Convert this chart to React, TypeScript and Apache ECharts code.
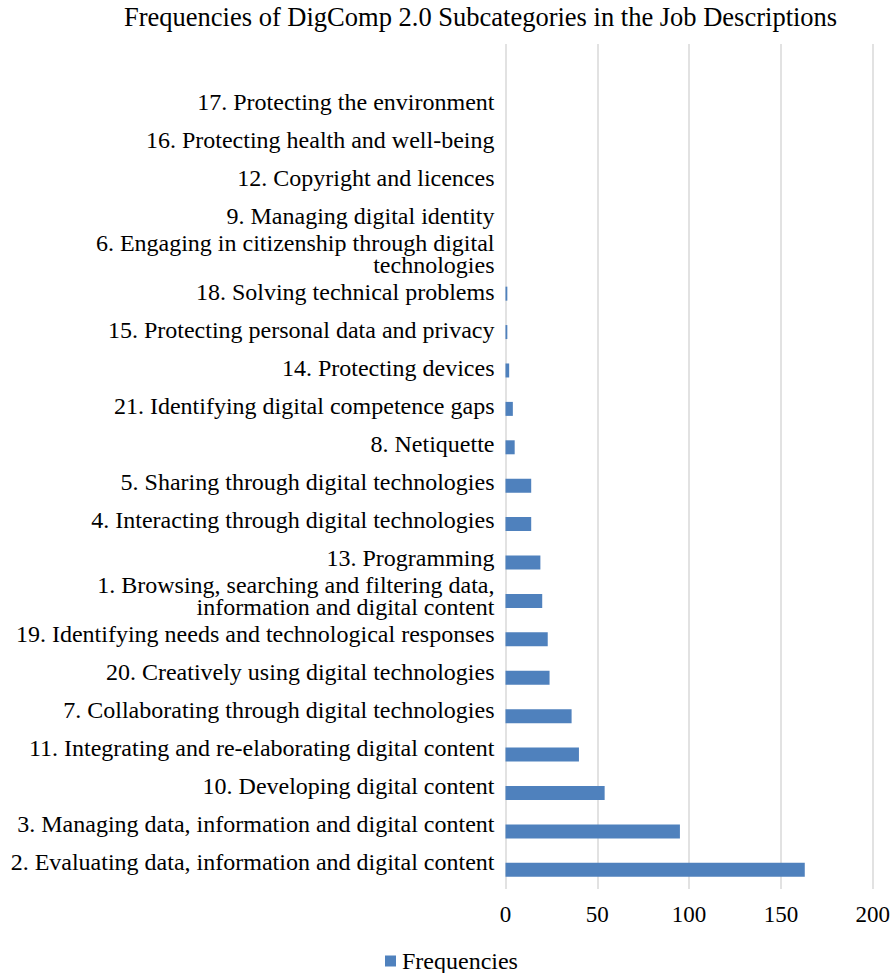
import React, { useEffect, useRef } from "react";
import * as echarts from "echarts";

const categories: string[] = [
  "2. Evaluating data, information and digital content",
  "3. Managing data, information and digital content",
  "10. Developing digital content",
  "11. Integrating and re-elaborating digital content",
  "7. Collaborating through digital technologies",
  "20. Creatively using digital technologies",
  "19. Identifying needs and technological responses",
  "1. Browsing, searching and filtering data,\ninformation and digital content",
  "13. Programming",
  "4. Interacting through digital technologies",
  "5. Sharing through digital technologies",
  "8. Netiquette",
  "21. Identifying digital competence gaps",
  "14. Protecting devices",
  "15. Protecting personal data and privacy",
  "18. Solving technical problems",
  "6. Engaging in citizenship through digital\ntechnologies",
  "9. Managing digital identity",
  "12. Copyright and licences",
  "16. Protecting health and well-being",
  "17. Protecting the environment",
];

const frequencies: (number | null)[] = [
  163, 95, 54, 40, 36, 24, 23, 20, 19, 14, 14, 5, 4, 2, 1, 1, 0, 0, 0, 0, 0,
];

const xTicks = { min: 0, max: 200, interval: 50 };

const FONT = "'Liberation Serif', 'Times New Roman', serif";

export default function App() {
  const ref = useRef<HTMLDivElement>(null);
  useEffect(() => {
    document.body.style.margin = "0";
    const chart = echarts.init(ref.current!, null, { renderer: "svg" });
    // plot categories plus one empty band at the top (as in the reference plot area)
    const plotCategories = [...categories, ""];
    const plotValues = [...frequencies, null];
    chart.setOption({
      animation: false,
      backgroundColor: "#ffffff",
      title: {
        text: "Frequencies of DigComp 2.0 Subcategories in the Job Descriptions",
        left: 124,
        top: 3,
        padding: 0,
        textStyle: { fontFamily: FONT, fontSize: 26.5, fontWeight: "normal", color: "#000" },
      },
      legend: {
        data: ["Frequencies"],
        left: 385,
        top: 949,
        padding: 0,
        icon: "rect",
        itemWidth: 11,
        itemHeight: 11,
        itemGap: 6,
        textStyle: { fontFamily: FONT, fontSize: 24, color: "#000", padding: [0, 0, 0, 1] },
      },
      grid: [
        { left: 505.5, right: 20.3, top: 44, bottom: 84, containLabel: false },
        { left: 505.5, right: 20.3, top: 83, bottom: 92, containLabel: false },
      ],
      xAxis: [
        {
          type: "value",
          gridIndex: 0,
          min: xTicks.min,
          max: xTicks.max,
          interval: xTicks.interval,
          axisLine: { show: false },
          axisTick: { show: false },
          splitLine: { show: true, lineStyle: { color: "#d9d9d9", width: 1.5 } },
          axisLabel: { fontFamily: FONT, fontSize: 23, color: "#000", margin: 14 },
        },
        {
          type: "value",
          gridIndex: 1,
          min: xTicks.min,
          max: xTicks.max,
          show: false,
        },
      ],
      yAxis: [
        {
          type: "category",
          gridIndex: 0,
          data: plotCategories,
          axisLine: { show: false },
          axisTick: { show: false },
          axisLabel: { show: false },
        },
        {
          type: "category",
          gridIndex: 1,
          data: categories,
          axisLine: { show: false },
          axisTick: { show: false },
          splitLine: { show: false },
          axisLabel: {
            fontFamily: FONT,
            fontSize: 24,
            color: "#000",
            margin: 11,
            lineHeight: 22,
            align: "right",
            interval: 0,
          },
        },
      ],
      series: [
        {
          name: "Frequencies",
          type: "bar",
          xAxisIndex: 0,
          yAxisIndex: 0,
          data: plotValues,
          barWidth: 14,
          itemStyle: { color: "#4f81bd" },
        },
      ],
    });
    return () => chart.dispose();
  }, []);
  return <div ref={ref} style={{ width: 893, height: 973 }} />;
}
